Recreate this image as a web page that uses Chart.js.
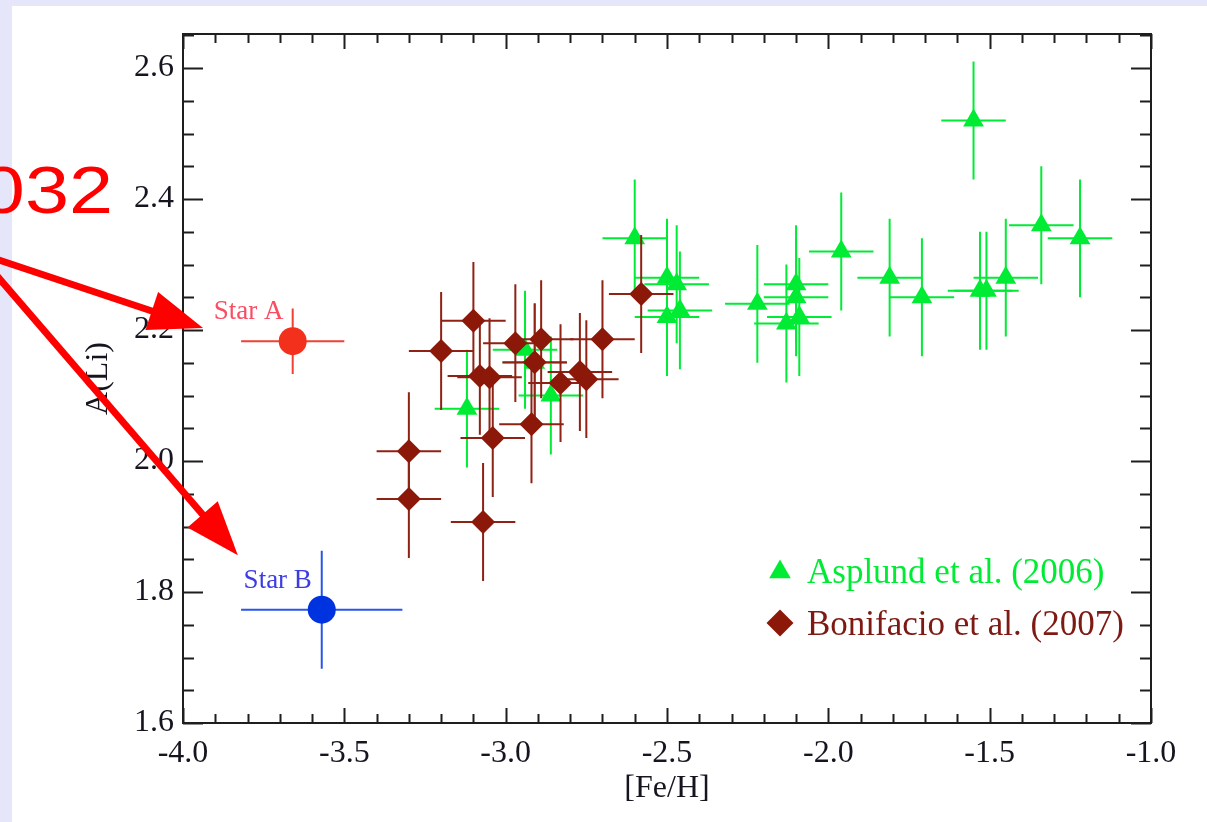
<!DOCTYPE html>
<html>
<head>
<meta charset="utf-8">
<script src="https://cdn.jsdelivr.net/npm/chart.js@4.4.1/dist/chart.umd.min.js"></script>
<style>
  html, body { margin: 0; padding: 0; background: #e6e6fa; }
  #wrap { width: 1207px; height: 822px; }
</style>
</head>
<body>
<div id="wrap"><canvas id="liChart" width="1207" height="822"></canvas></div>
<script>
// Asplund et al. (2006)
var asplundFeH = [-3.12, -2.94, -2.91, -2.86, -2.60, -2.50, -2.47, -2.50, -2.46, -2.22, -2.13, -2.10,
                  -2.10, -2.09, -1.96, -1.81, -1.71, -1.55, -1.53, -1.51, -1.45, -1.34, -1.22];
var asplundLi = [2.08, 2.17, 2.15, 2.10, 2.34, 2.28, 2.27, 2.22, 2.23, 2.24, 2.21, 2.27,
                 2.25, 2.22, 2.32, 2.28, 2.25, 2.52, 2.26, 2.26, 2.28, 2.36, 2.34];
var asplundFeHErr = [0.10, 0.10, 0.10, 0.10, 0.10, 0.10, 0.10, 0.10, 0.10, 0.10, 0.10, 0.10,
                     0.10, 0.10, 0.10, 0.10, 0.10, 0.10, 0.10, 0.10, 0.10, 0.10, 0.10];
var asplundLiErr = [0.09, 0.09, 0.09, 0.09, 0.09, 0.09, 0.09, 0.09, 0.09, 0.09, 0.09, 0.09,
                    0.09, 0.09, 0.09, 0.09, 0.09, 0.09, 0.09, 0.09, 0.09, 0.09, 0.09];

// Bonifacio et al. (2007)
var bonifacioFeH = [-3.30, -3.30, -3.20, -3.10, -3.07, -3.08, -3.05, -3.04, -2.97, -2.92, -2.91, -2.89,
                    -2.83, -2.77, -2.75, -2.70, -2.58];
var bonifacioLi = [2.015, 1.942, 2.168, 2.214, 1.907, 2.130, 2.128, 2.035, 2.180, 2.056, 2.151, 2.186,
                   2.119, 2.136, 2.125, 2.186, 2.255];
var bonifacioFeHErr = [0.10, 0.10, 0.10, 0.10, 0.10, 0.10, 0.10, 0.10, 0.10, 0.10, 0.10, 0.10,
                       0.10, 0.10, 0.10, 0.10, 0.10];
var bonifacioLiErr = [0.09, 0.09, 0.09, 0.09, 0.09, 0.09, 0.09, 0.09, 0.09, 0.09, 0.09, 0.09,
                      0.09, 0.09, 0.09, 0.09, 0.09];

// the two programme stars
var starNames = ['Star A', 'Star B'];
var starFeH = [-3.66, -3.57];
var starLi = [2.183, 1.773];
var starFeHErr = [0.16, 0.25];
var starLiErr = [0.05, 0.09];

// axis ranges and tick steps
var feHRange = [-4.0, -1.0];
var liRange = [1.6, 2.652];
var feHMajor = 0.5, feHMinor = 0.1;
var liMajor = 0.2, liMinor = 0.05;

var GREEN = '#00ec34';
var BROWN = '#8b1808';
var STAR_FILL = ['#f2301c', '#0033e0'];
var STAR_BAR = ['#f04232', '#2a55ea'];
var STAR_TEXT = ['#fb4c62', '#3c3ce6'];
var INK = '#151520';

function pts(xs, ys) {
  return xs.map(function (x, i) { return { x: x, y: ys[i] }; });
}

// page background: lavender margin with a white sheet
var sheet = {
  id: 'sheet',
  beforeDraw: function (chart) {
    var c = chart.ctx;
    c.save();
    c.fillStyle = '#e6e6fa';
    c.fillRect(0, 0, chart.width, chart.height);
    c.fillStyle = '#ffffff';
    c.fillRect(12, 6, chart.width - 12, chart.height - 6);
    c.restore();
  }
};

// box round the plot with inward ticks on all four sides
var frame = {
  id: 'frame',
  beforeDatasetsDraw: function (chart) {
    var c = chart.ctx, a = chart.chartArea;
    var xs = chart.scales.x, ys = chart.scales.y;
    c.save();
    c.strokeStyle = '#1e1e1e';
    c.lineWidth = 2;
    c.strokeRect(a.left, a.top, a.right - a.left, a.bottom - a.top);
    c.beginPath();
    var n = Math.round((feHRange[1] - feHRange[0]) / feHMinor);
    for (var k = 0; k <= n; k++) {
      var v = feHRange[0] + k * feHMinor;
      var px = Math.round(xs.getPixelForValue(v)) + 0.5;
      var major = Math.abs(v / feHMajor - Math.round(v / feHMajor)) < 1e-6;
      var len = major ? 15 : 9;
      c.moveTo(px, a.bottom); c.lineTo(px, a.bottom - len);
      c.moveTo(px, a.top); c.lineTo(px, a.top + len);
    }
    var m = Math.floor((liRange[1] - liRange[0]) / liMinor + 1e-6);
    for (var j = 0; j <= m; j++) {
      var w = liRange[0] + j * liMinor;
      var py = Math.round(ys.getPixelForValue(w)) + 0.5;
      var maj = Math.abs((w - liRange[0]) / liMajor - Math.round((w - liRange[0]) / liMajor)) < 1e-6;
      var ln = maj ? 20 : 11;
      c.moveTo(a.left, py); c.lineTo(a.left + ln, py);
      c.moveTo(a.right, py); c.lineTo(a.right - ln, py);
    }
    c.stroke();
    c.restore();
  }
};

// error bars, drawn just beneath each dataset's own markers
var errorBars = {
  id: 'errorBars',
  beforeDatasetDraw: function (chart, args) {
    var ds = chart.data.datasets[args.index];
    if (!ds.xErr) return;
    var c = chart.ctx, xs = chart.scales.x, ys = chart.scales.y;
    c.save();
    c.lineWidth = 2;
    ds.data.forEach(function (p, i) {
      c.strokeStyle = Array.isArray(ds.barColor) ? ds.barColor[i] : ds.barColor;
      c.beginPath();
      c.moveTo(xs.getPixelForValue(p.x - ds.xErr[i]), ys.getPixelForValue(p.y));
      c.lineTo(xs.getPixelForValue(p.x + ds.xErr[i]), ys.getPixelForValue(p.y));
      c.moveTo(xs.getPixelForValue(p.x), ys.getPixelForValue(p.y - ds.yErr[i]));
      c.lineTo(xs.getPixelForValue(p.x), ys.getPixelForValue(p.y + ds.yErr[i]));
      c.stroke();
    });
    c.restore();
  }
};

// star names, key and the red call-out arrows
var notes = {
  id: 'notes',
  afterDraw: function (chart) {
    var c = chart.ctx, a = chart.chartArea;
    var xs = chart.scales.x, ys = chart.scales.y;
    c.save();

    c.font = '27px "Liberation Serif"';
    c.textAlign = 'center';
    c.textBaseline = 'middle';
    starNames.forEach(function (name, i) {
      c.fillStyle = STAR_TEXT[i];
      c.fillText(name, xs.getPixelForValue(starFeH[i]) - 44, ys.getPixelForValue(starLi[i]) - 29);
    });

    // key
    var kx = a.right - 371;
    var ky1 = a.bottom - 151, ky2 = a.bottom - 100;
    c.fillStyle = GREEN;
    c.beginPath();
    c.moveTo(kx, ky1 - 12.5);
    c.lineTo(kx + 10.8, ky1 + 6.25);
    c.lineTo(kx - 10.8, ky1 + 6.25);
    c.closePath();
    c.fill();
    c.fillStyle = BROWN;
    c.beginPath();
    c.moveTo(kx, ky2 - 13.5);
    c.lineTo(kx + 13.5, ky2);
    c.lineTo(kx, ky2 + 13.5);
    c.lineTo(kx - 13.5, ky2);
    c.closePath();
    c.fill();
    c.font = '35px "Liberation Serif"';
    c.textAlign = 'left';
    c.textBaseline = 'alphabetic';
    c.fillStyle = GREEN;
    c.fillText('Asplund et al. (2006)', kx + 27, ky1 + 11);
    c.fillStyle = '#7e1a14';
    c.fillText('Bonifacio et al. (2007)', kx + 27, ky2 + 12);

    // call-out: object number in slightly widened lettering
    c.save();
    c.fillStyle = '#ff0000';
    c.font = '66px "Liberation Sans"';
    c.textAlign = 'right';
    c.translate(113, 213);
    c.scale(1.2, 1);
    c.fillText('032', 0, 0);
    c.restore();

    // arrows to the two stars
    var from = [xs.getPixelForValue(-4.638), ys.getPixelForValue(2.318)];
    var tips = [[-3.938, 2.203], [-3.83, 1.856]];
    c.fillStyle = '#ff0000';
    c.strokeStyle = '#ff0000';
    c.lineWidth = 7;
    tips.forEach(function (t) {
      var tx = xs.getPixelForValue(t[0]), ty = ys.getPixelForValue(t[1]);
      var dx = tx - from[0], dy = ty - from[1];
      var L = Math.sqrt(dx * dx + dy * dy);
      var ux = dx / L, uy = dy / L;
      var head = 54, half = 20;
      var bx = tx - ux * head, by = ty - uy * head;
      c.beginPath();
      c.moveTo(from[0], from[1]);
      c.lineTo(bx + ux * 4, by + uy * 4);
      c.stroke();
      c.beginPath();
      c.moveTo(tx, ty);
      c.lineTo(bx - uy * half, by + ux * half);
      c.lineTo(bx + uy * half, by - ux * half);
      c.closePath();
      c.fill();
    });
    c.restore();
  }
};

Chart.defaults.font.family = '"Liberation Serif", "Times New Roman", serif';

var chart = new Chart(document.getElementById('liChart').getContext('2d'), {
  type: 'scatter',
  data: {
    datasets: [{
      label: 'Stars',
      data: pts(starFeH, starLi),
      xErr: starFeHErr,
      yErr: starLiErr,
      barColor: STAR_BAR,
      pointStyle: 'circle',
      pointRadius: 14,
      backgroundColor: STAR_FILL,
      borderWidth: 0
    }, {
      label: 'Bonifacio et al. (2007)',
      data: pts(bonifacioFeH, bonifacioLi),
      xErr: bonifacioFeHErr,
      yErr: bonifacioLiErr,
      barColor: '#8e2214',
      pointStyle: 'rectRot',
      pointRadius: 12,
      backgroundColor: BROWN,
      borderWidth: 0
    }, {
      label: 'Asplund et al. (2006)',
      data: pts(asplundFeH, asplundLi),
      xErr: asplundFeHErr,
      yErr: asplundLiErr,
      barColor: GREEN,
      pointStyle: 'triangle',
      pointRadius: 12,
      backgroundColor: GREEN,
      borderWidth: 0
    }]
  },
  options: {
    responsive: false,
    animation: false,
    events: [],
    layout: { padding: { left: 0, top: 34, right: 56, bottom: 0 } },
    plugins: {
      legend: { display: false },
      tooltip: { enabled: false }
    },
    scales: {
      x: {
        type: 'linear',
        min: feHRange[0],
        max: feHRange[1],
        grid: { display: false, drawTicks: false },
        border: { display: false },
        ticks: {
          stepSize: feHMajor,
          padding: 11,
          color: INK,
          font: { size: 32 },
          callback: function (v) { return v.toFixed(1); }
        },
        title: { display: true, text: '[Fe/H]', color: INK, font: { size: 32 }, padding: { top: 0, bottom: 14 } },
        afterFit: function (s) { s.height = 99; }
      },
      y: {
        type: 'linear',
        min: liRange[0],
        max: liRange[1],
        grid: { display: false, drawTicks: false },
        border: { display: false },
        ticks: {
          stepSize: liMajor,
          includeBounds: false,
          padding: 9,
          color: INK,
          font: { size: 32 },
          callback: function (v) { return v.toFixed(1); }
        },
        title: { display: true, text: 'A(Li)', color: INK, font: { size: 32 }, padding: { top: 79, bottom: 0 } },
        afterFit: function (s) { s.width = 183; }
      }
    }
  },
  plugins: [sheet, frame, errorBars, notes]
});
</script>
</body>
</html>
